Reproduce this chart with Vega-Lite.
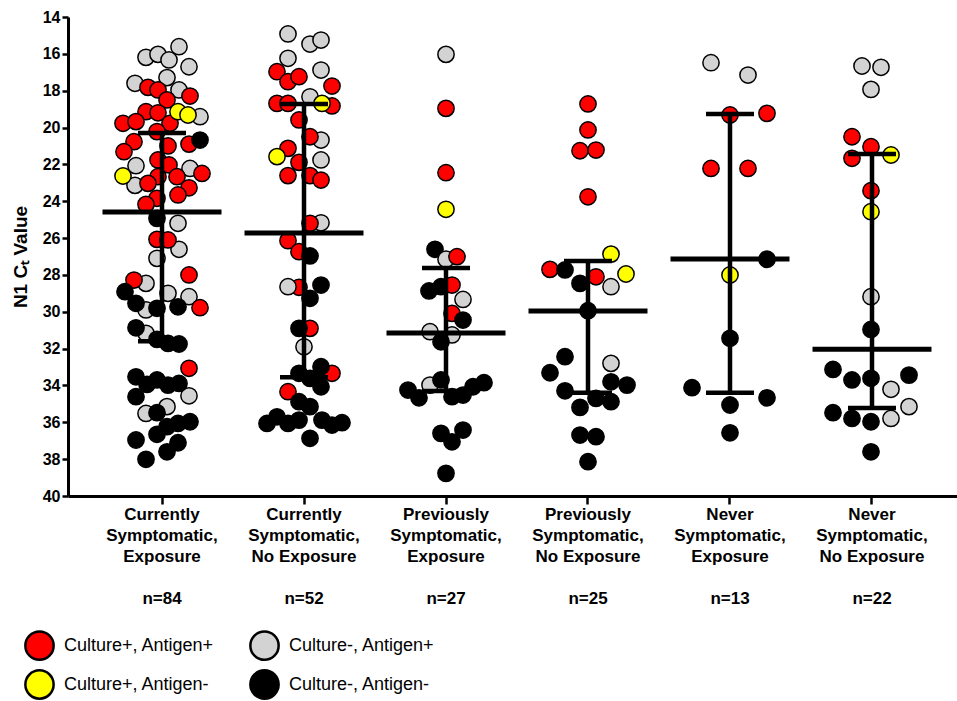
{
  "$schema": "https://vega.github.io/schema/vega-lite/v6.json",
  "autosize": {"type": "none"},
  "padding": {"left": 68, "top": 17, "right": 0, "bottom": 205},
  "width": 889,
  "height": 479,
  "background": "white",
  "config": {
    "view": {"stroke": null},
    "font": "Liberation Sans",
    "axis": {"grid": false, "domainColor": "black", "tickColor": "black", "labelColor": "black", "titleColor": "black", "labelOverlap": false, "labelFlush": false},
    "axisY": {"labelOverlap": false, "labelFontSize": 16, "labelFontWeight": "bold", "tickSize": 6, "tickWidth": 2.5, "domainWidth": 3, "labelPadding": 2}
  },
  "resolve": {"axis": {"x": "independent"}},
  "datasets": {
    "groups": [
      {"g": 1, "label": "Currently|Symptomatic,|Exposure|n=84"},
      {"g": 2, "label": "Currently|Symptomatic,|No Exposure|n=52"},
      {"g": 3, "label": "Previously|Symptomatic,|Exposure|n=27"},
      {"g": 4, "label": "Previously|Symptomatic,|No Exposure|n=25"},
      {"g": 5, "label": "Never|Symptomatic,|Exposure|n=13"},
      {"g": 6, "label": "Never|Symptomatic,|No Exposure|n=22"}
    ],
    "classes": [
      {"c": "R", "status": "Culture+, Antigen+"},
      {"c": "G", "status": "Culture-, Antigen+"},
      {"c": "Y", "status": "Culture+, Antigen-"},
      {"c": "K", "status": "Culture-, Antigen-"}
    ],
    "summary": [
      {"g": 1, "median": 24.59, "q1": 20.3, "q3": 31.6},
      {"g": 2, "median": 25.73, "q1": 18.72, "q3": 33.55},
      {"g": 3, "median": 31.15, "q1": 27.63, "q3": 34.3},
      {"g": 4, "median": 29.96, "q1": 27.25, "q3": 34.4},
      {"g": 5, "median": 27.14, "q1": 19.27, "q3": 34.4},
      {"g": 6, "median": 32.03, "q1": 21.44, "q3": 35.23}
    ],
    "points": [
      {"g":1,"c":"G","ct":15.61,"j":17},{"g":1,"c":"G","ct":16.19,"j":-16},{"g":1,"c":"G","ct":16.03,"j":-4},{"g":1,"c":"G","ct":16.33,"j":7},{"g":1,"c":"G","ct":16.7,"j":27},{"g":1,"c":"G","ct":17.6,"j":-27},{"g":1,"c":"G","ct":17.29,"j":5},{"g":1,"c":"G","ct":17.96,"j":17},{"g":1,"c":"G","ct":19.41,"j":38},{"g":1,"c":"G","ct":22.07,"j":-26},{"g":1,"c":"G","ct":23.14,"j":-27},{"g":1,"c":"G","ct":22.22,"j":28},{"g":1,"c":"G","ct":25.2,"j":16},{"g":1,"c":"G","ct":26.61,"j":17},{"g":1,"c":"G","ct":27.1,"j":-5},{"g":1,"c":"G","ct":28.46,"j":-16},{"g":1,"c":"G","ct":29.0,"j":6},{"g":1,"c":"G","ct":29.18,"j":27},{"g":1,"c":"G","ct":29.9,"j":-16},{"g":1,"c":"G","ct":31.17,"j":-16},{"g":1,"c":"G","ct":34.56,"j":27},{"g":1,"c":"G","ct":35.15,"j":5},{"g":1,"c":"G","ct":35.52,"j":-16},
      {"g":1,"c":"R","ct":17.82,"j":-14},{"g":1,"c":"R","ct":17.96,"j":-4},{"g":1,"c":"R","ct":18.29,"j":28},{"g":1,"c":"R","ct":18.5,"j":5},{"g":1,"c":"R","ct":19.14,"j":-16},{"g":1,"c":"R","ct":19.2,"j":-4},{"g":1,"c":"R","ct":19.77,"j":8},{"g":1,"c":"R","ct":19.77,"j":-39},{"g":1,"c":"R","ct":19.68,"j":-26},{"g":1,"c":"R","ct":20.22,"j":-5},{"g":1,"c":"R","ct":20.77,"j":-28},{"g":1,"c":"R","ct":21.0,"j":6},{"g":1,"c":"R","ct":20.9,"j":27},{"g":1,"c":"R","ct":21.31,"j":-38},{"g":1,"c":"R","ct":21.76,"j":-4},{"g":1,"c":"R","ct":22.03,"j":7},{"g":1,"c":"R","ct":22.49,"j":40},{"g":1,"c":"R","ct":22.67,"j":-4},{"g":1,"c":"R","ct":23.03,"j":-14},{"g":1,"c":"R","ct":22.67,"j":15},{"g":1,"c":"R","ct":23.27,"j":27},{"g":1,"c":"R","ct":23.66,"j":16},{"g":1,"c":"R","ct":23.84,"j":-5},{"g":1,"c":"R","ct":24.17,"j":-16},{"g":1,"c":"R","ct":26.07,"j":-5},{"g":1,"c":"R","ct":26.1,"j":6},{"g":1,"c":"R","ct":28.28,"j":-28},{"g":1,"c":"R","ct":28.0,"j":27},{"g":1,"c":"R","ct":29.78,"j":38},{"g":1,"c":"R","ct":33.07,"j":27},
      {"g":1,"c":"Y","ct":19.14,"j":16},{"g":1,"c":"Y","ct":19.32,"j":26},{"g":1,"c":"Y","ct":22.63,"j":-39},
      {"g":1,"c":"K","ct":20.68,"j":38},{"g":1,"c":"K","ct":24.93,"j":-5},{"g":1,"c":"K","ct":28.91,"j":-37},{"g":1,"c":"K","ct":29.54,"j":-26},{"g":1,"c":"K","ct":29.81,"j":-5},{"g":1,"c":"K","ct":29.73,"j":16},{"g":1,"c":"K","ct":30.87,"j":-26},{"g":1,"c":"K","ct":31.5,"j":-5},{"g":1,"c":"K","ct":31.72,"j":6},{"g":1,"c":"K","ct":31.75,"j":17},{"g":1,"c":"K","ct":33.53,"j":-26},{"g":1,"c":"K","ct":33.94,"j":-15},{"g":1,"c":"K","ct":33.7,"j":-5},{"g":1,"c":"K","ct":33.98,"j":6},{"g":1,"c":"K","ct":33.89,"j":17},{"g":1,"c":"K","ct":34.61,"j":-26},{"g":1,"c":"K","ct":35.48,"j":-5},{"g":1,"c":"K","ct":36.24,"j":5},{"g":1,"c":"K","ct":36.06,"j":16},{"g":1,"c":"K","ct":35.97,"j":28},{"g":1,"c":"K","ct":36.65,"j":-5},{"g":1,"c":"K","ct":36.96,"j":-26},{"g":1,"c":"K","ct":37.11,"j":16},{"g":1,"c":"K","ct":37.6,"j":5},{"g":1,"c":"K","ct":38.01,"j":-16},
      {"g":2,"c":"G","ct":14.92,"j":-16},{"g":2,"c":"G","ct":15.47,"j":6},{"g":2,"c":"G","ct":15.25,"j":17},{"g":2,"c":"G","ct":16.24,"j":-16},{"g":2,"c":"G","ct":16.88,"j":17},{"g":2,"c":"G","ct":18.33,"j":6},{"g":2,"c":"G","ct":20.68,"j":17},{"g":2,"c":"G","ct":21.76,"j":17},{"g":2,"c":"G","ct":25.17,"j":17},{"g":2,"c":"G","ct":31.9,"j":0},
      {"g":2,"c":"R","ct":16.97,"j":-27},{"g":2,"c":"R","ct":17.51,"j":-16},{"g":2,"c":"R","ct":17.24,"j":-5},{"g":2,"c":"R","ct":17.75,"j":28},{"g":2,"c":"R","ct":18.69,"j":-27},{"g":2,"c":"R","ct":18.69,"j":-16},{"g":2,"c":"R","ct":18.83,"j":28},{"g":2,"c":"R","ct":19.59,"j":-5},{"g":2,"c":"R","ct":20.5,"j":6},{"g":2,"c":"R","ct":21.13,"j":-16},{"g":2,"c":"R","ct":21.89,"j":-5},{"g":2,"c":"R","ct":22.61,"j":-16},{"g":2,"c":"R","ct":22.61,"j":6},{"g":2,"c":"R","ct":22.85,"j":17},{"g":2,"c":"R","ct":25.2,"j":6},{"g":2,"c":"R","ct":26.14,"j":-16},{"g":2,"c":"R","ct":26.74,"j":-5},{"g":2,"c":"R","ct":28.67,"j":-5},{"g":2,"c":"R","ct":30.9,"j":6},{"g":2,"c":"R","ct":33.34,"j":28},{"g":2,"c":"R","ct":34.34,"j":-16},
      {"g":2,"c":"G","ct":28.64,"j":-16},
      {"g":2,"c":"Y","ct":18.69,"j":18},{"g":2,"c":"Y","ct":21.58,"j":-27},
      {"g":2,"c":"K","ct":26.97,"j":6},{"g":2,"c":"K","ct":28.55,"j":17},{"g":2,"c":"K","ct":29.27,"j":6},{"g":2,"c":"K","ct":30.9,"j":-5},{"g":2,"c":"K","ct":33.34,"j":-5},{"g":2,"c":"K","ct":32.98,"j":17},{"g":2,"c":"K","ct":33.62,"j":6},{"g":2,"c":"K","ct":34.07,"j":17},{"g":2,"c":"K","ct":34.88,"j":-5},{"g":2,"c":"K","ct":35.15,"j":6},{"g":2,"c":"K","ct":36.06,"j":-37},{"g":2,"c":"K","ct":35.7,"j":-27},{"g":2,"c":"K","ct":36.06,"j":-16},{"g":2,"c":"K","ct":35.88,"j":-5},{"g":2,"c":"K","ct":35.88,"j":18},{"g":2,"c":"K","ct":36.15,"j":28},{"g":2,"c":"K","ct":36.02,"j":38},{"g":2,"c":"K","ct":36.87,"j":6},
      {"g":3,"c":"G","ct":16.03,"j":0},{"g":3,"c":"R","ct":18.96,"j":0},{"g":3,"c":"R","ct":22.45,"j":0},{"g":3,"c":"Y","ct":24.44,"j":0},
      {"g":3,"c":"K","ct":26.61,"j":-11},{"g":3,"c":"G","ct":27.15,"j":0},{"g":3,"c":"R","ct":27.01,"j":11},{"g":3,"c":"K","ct":28.87,"j":-17},{"g":3,"c":"K","ct":28.64,"j":-5},{"g":3,"c":"R","ct":28.55,"j":6},{"g":3,"c":"G","ct":29.33,"j":17},{"g":3,"c":"R","ct":30.09,"j":6},{"g":3,"c":"K","ct":30.45,"j":17},{"g":3,"c":"G","ct":31.08,"j":-16},{"g":3,"c":"G","ct":31.26,"j":6},{"g":3,"c":"K","ct":31.63,"j":-5},{"g":3,"c":"G","ct":33.98,"j":-16},{"g":3,"c":"K","ct":34.25,"j":-38},{"g":3,"c":"K","ct":33.7,"j":-5},{"g":3,"c":"K","ct":34.67,"j":-27},{"g":3,"c":"K","ct":34.61,"j":6},{"g":3,"c":"K","ct":34.52,"j":17},{"g":3,"c":"K","ct":34.07,"j":27},{"g":3,"c":"K","ct":33.85,"j":38},{"g":3,"c":"K","ct":36.6,"j":-5},{"g":3,"c":"K","ct":36.42,"j":17},{"g":3,"c":"K","ct":37.06,"j":6},{"g":3,"c":"K","ct":38.77,"j":0},
      {"g":4,"c":"R","ct":18.72,"j":0},{"g":4,"c":"R","ct":20.13,"j":0},{"g":4,"c":"R","ct":21.26,"j":-8},{"g":4,"c":"R","ct":21.22,"j":8},{"g":4,"c":"R","ct":23.76,"j":0},{"g":4,"c":"Y","ct":26.87,"j":23},{"g":4,"c":"R","ct":27.7,"j":-38},{"g":4,"c":"K","ct":27.73,"j":-23},{"g":4,"c":"R","ct":28.1,"j":8},{"g":4,"c":"Y","ct":27.95,"j":38},{"g":4,"c":"K","ct":28.46,"j":-8},{"g":4,"c":"G","ct":28.64,"j":23},{"g":4,"c":"K","ct":29.94,"j":0},{"g":4,"c":"K","ct":32.44,"j":-23},{"g":4,"c":"G","ct":32.8,"j":23},{"g":4,"c":"K","ct":33.31,"j":-38},{"g":4,"c":"K","ct":34.29,"j":-23},{"g":4,"c":"K","ct":33.8,"j":23},{"g":4,"c":"K","ct":33.98,"j":39},{"g":4,"c":"K","ct":35.19,"j":-8},{"g":4,"c":"K","ct":34.7,"j":8},{"g":4,"c":"K","ct":34.88,"j":23},{"g":4,"c":"K","ct":36.69,"j":-8},{"g":4,"c":"K","ct":36.78,"j":8},{"g":4,"c":"K","ct":38.14,"j":0},
      {"g":5,"c":"G","ct":16.48,"j":-19},{"g":5,"c":"G","ct":17.15,"j":18},{"g":5,"c":"R","ct":19.32,"j":0},{"g":5,"c":"R","ct":19.23,"j":37},{"g":5,"c":"R","ct":22.22,"j":-19},{"g":5,"c":"R","ct":22.22,"j":18},{"g":5,"c":"K","ct":27.15,"j":37},{"g":5,"c":"Y","ct":28.0,"j":0},{"g":5,"c":"K","ct":31.44,"j":0},{"g":5,"c":"K","ct":34.12,"j":-38},{"g":5,"c":"K","ct":34.67,"j":37},{"g":5,"c":"K","ct":35.06,"j":0},{"g":5,"c":"K","ct":36.57,"j":0},
      {"g":6,"c":"G","ct":16.66,"j":-10},{"g":6,"c":"G","ct":16.73,"j":9},{"g":6,"c":"G","ct":17.93,"j":-1},{"g":6,"c":"R","ct":20.5,"j":-20},{"g":6,"c":"R","ct":21.04,"j":-1},{"g":6,"c":"R","ct":21.67,"j":-20},{"g":6,"c":"Y","ct":21.49,"j":19},{"g":6,"c":"R","ct":23.43,"j":-1},{"g":6,"c":"Y","ct":24.57,"j":-1},{"g":6,"c":"G","ct":29.18,"j":-1},{"g":6,"c":"K","ct":30.96,"j":-1},{"g":6,"c":"K","ct":33.13,"j":-39},{"g":6,"c":"K","ct":33.7,"j":-20},{"g":6,"c":"K","ct":33.61,"j":-1},{"g":6,"c":"K","ct":33.44,"j":37},{"g":6,"c":"G","ct":34.21,"j":19},{"g":6,"c":"G","ct":35.15,"j":37},{"g":6,"c":"K","ct":35.48,"j":-39},{"g":6,"c":"K","ct":35.79,"j":-20},{"g":6,"c":"K","ct":35.97,"j":-1},{"g":6,"c":"G","ct":35.79,"j":19},{"g":6,"c":"K","ct":37.6,"j":-1}
    ]
  },
  "layer": [
    {
      "data": {"name": "points"},
      "transform": [
        {"lookup": "g", "from": {"data": {"name": "groups"}, "key": "g", "fields": ["label"]}},
        {"lookup": "c", "from": {"data": {"name": "classes"}, "key": "c", "fields": ["status"]}}
      ],
      "mark": {"type": "circle", "size": 265, "opacity": 1, "stroke": "black", "strokeWidth": 1.5},
      "encoding": {
        "x": {
          "field": "label", "type": "nominal",
          "scale": {
            "type": "band", "round": false, "paddingInner": 0, "paddingOuter": 0.1303, "align": 0.6216,
            "domain": [
              "Currently|Symptomatic,|Exposure|n=84",
              "Currently|Symptomatic,|No Exposure|n=52",
              "Previously|Symptomatic,|Exposure|n=27",
              "Previously|Symptomatic,|No Exposure|n=25",
              "Never|Symptomatic,|Exposure|n=13",
              "Never|Symptomatic,|No Exposure|n=22"
            ]
          },
          "axis": {
            "title": null, "labelAngle": 0, "labelExpr": "slice(split(datum.label, '|'), 0, 3)",
            "labelFont": "Liberation Sans", "labelFontWeight": "bold", "labelFontSize": 17, "labelLineHeight": 21,
            "labelPadding": 2, "domainWidth": 3, "tickWidth": 2.5, "tickSize": 8, "labelLimit": 200, "labelOverlap": false
          }
        },
        "xOffset": {"field": "j", "type": "quantitative", "scale": {"domain": [-71, 71]}},
        "y": {
          "field": "ct", "type": "quantitative",
          "scale": {"domain": [14, 40], "reverse": true, "nice": false, "zero": false},
          "axis": {
            "title": "N1 Cₜ Value", "values": [14,16,18,20,22,24,26,28,30,32,34,36,38,40], "tickCount": 14,
            "labelFont": "Liberation Sans", "labelOverlap": false,
            "titleFont": "Liberation Sans", "titleFontWeight": "bold", "titleFontSize": 19, "titlePadding": 12
          }
        },
        "fill": {
          "field": "status", "type": "nominal",
          "scale": {
            "domain": ["Culture+, Antigen+", "Culture+, Antigen-", "Culture-, Antigen+", "Culture-, Antigen-"],
            "range": ["#ff0000", "#ffff00", "#d3d3d3", "#000000"]
          },
          "legend": {
            "title": null, "orient": "none", "legendX": -44, "legendY": 613, "columns": 2,
            "symbolType": "circle", "symbolSize": 800, "symbolStrokeColor": "black", "symbolStrokeWidth": 2.5, "symbolOpacity": 1,
            "labelFont": "Liberation Sans", "labelFontSize": 18, "labelColor": "black", "labelOffset": 9, "labelLimit": 300,
            "columnPadding": 30, "rowPadding": 0, "padding": 0
          }
        }
      }
    },
    {
      "data": {"name": "summary"},
      "transform": [{"lookup": "g", "from": {"data": {"name": "groups"}, "key": "g", "fields": ["label"]}}],
      "mark": {"type": "rule", "color": "black", "strokeWidth": 4.5},
      "encoding": {
        "x": {"field": "label", "type": "nominal", "axis": null},
        "y": {"field": "q1", "type": "quantitative", "axis": {"values": [14,16,18,20,22,24,26,28,30,32,34,36,38,40], "labelOverlap": false}},
        "y2": {"field": "q3"}
      }
    },
    {
      "data": {"name": "summary"},
      "transform": [{"lookup": "g", "from": {"data": {"name": "groups"}, "key": "g", "fields": ["label"]}}],
      "mark": {"type": "tick", "color": "black", "size": 119, "thickness": 5, "opacity": 1},
      "encoding": {
        "x": {
          "field": "label", "type": "nominal",
          "axis": {
            "title": null, "orient": "bottom", "offset": 92, "domain": false, "ticks": false, "tickSize": 0,
            "labelAngle": 0, "labelExpr": "split(datum.label, '|')[3]",
            "labelFont": "Liberation Sans", "labelFontWeight": "bold", "labelFontSize": 17,
            "labelPadding": 2, "labelLimit": 200, "labelOverlap": false
          }
        },
        "y": {"field": "median", "type": "quantitative", "axis": {"values": [14,16,18,20,22,24,26,28,30,32,34,36,38,40], "labelOverlap": false}}
      }
    },
    {
      "data": {"name": "summary"},
      "transform": [
        {"lookup": "g", "from": {"data": {"name": "groups"}, "key": "g", "fields": ["label"]}},
        {"fold": ["q1", "q3"], "as": ["quartile", "value"]}
      ],
      "mark": {"type": "tick", "color": "black", "size": 48, "thickness": 4.5, "opacity": 1},
      "encoding": {
        "x": {"field": "label", "type": "nominal", "axis": null},
        "y": {"field": "value", "type": "quantitative", "axis": {"values": [14,16,18,20,22,24,26,28,30,32,34,36,38,40], "labelOverlap": false}}
      }
    }
  ]
}
